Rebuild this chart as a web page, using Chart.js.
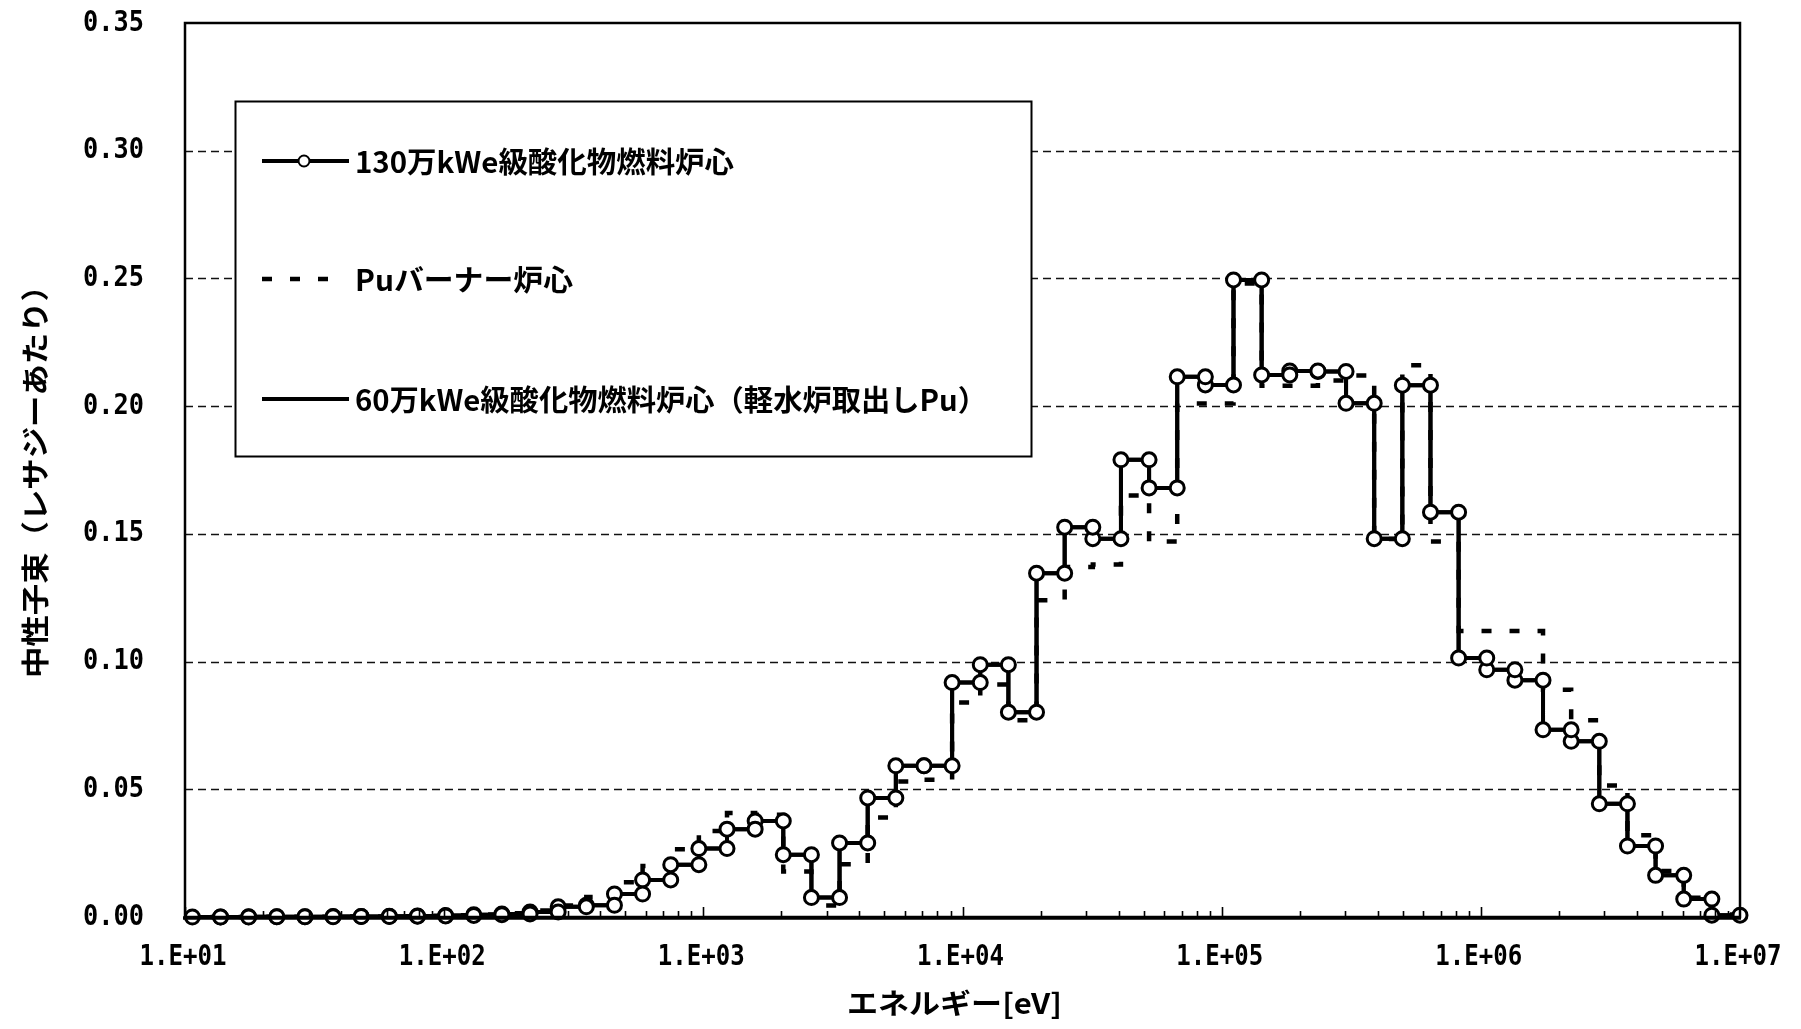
<!DOCTYPE html>
<html>
<head>
<meta charset="utf-8">
<script src="https://cdn.jsdelivr.net/npm/chart.js@4.4.1/dist/chart.umd.min.js"></script>
<style>
  html, body { margin: 0; padding: 0; background: #ffffff; }
  #wrap { width: 1801px; height: 1029px; position: relative; }
  canvas { display: block; }
</style>
</head>
<body>
<div id="wrap"><canvas id="c" width="1801" height="1029"></canvas></div>
<script>
// Group boundaries [eV] of the 70-group structure (lethargy width 0.25), upper 55 groups
const groupBounds = [
  1.0000e7, 7.7880e6, 6.0653e6, 4.7237e6, 3.6788e6, 2.8650e6, 2.2313e6, 1.7377e6,
  1.3534e6, 1.0540e6, 8.2085e5, 6.3928e5, 4.9787e5, 3.8774e5, 3.0197e5, 2.3518e5,
  1.8316e5, 1.4264e5, 1.1109e5, 8.6517e4, 6.7379e4, 5.2475e4, 4.0868e4, 3.1828e4,
  2.4788e4, 1.9305e4, 1.5034e4, 1.1709e4, 9.1188e3, 7.1017e3, 5.5308e3, 4.3074e3,
  3.3546e3, 2.6126e3, 2.0347e3, 1.5846e3, 1.2341e3, 961.12, 748.52, 582.95,
  454.00, 353.57, 275.36, 214.45, 167.02, 130.07, 101.30, 78.893,
  61.442, 47.851, 37.267, 29.023, 22.603, 17.603, 13.710, 10.677
];

// Neutron flux per unit lethargy, group 1 (highest energy) to group 55
const fluxOxide1300 = [
  0.0007, 0.0070, 0.0163, 0.0278, 0.0443, 0.0688, 0.0733, 0.0927, 0.0968, 0.1014,
  0.1585, 0.2082, 0.1481, 0.2011, 0.2136, 0.2138, 0.2122, 0.2494, 0.2083, 0.2115,
  0.1680, 0.1790, 0.1481, 0.1526, 0.1346, 0.0802, 0.0988, 0.0918, 0.0592, 0.0592,
  0.0466, 0.0290, 0.0076, 0.0244, 0.0376, 0.0344, 0.0268, 0.0205, 0.0145, 0.0090,
  0.0046, 0.0040, 0.0020, 0.0012, 0.0009, 0.0006, 0.0004, 0.0003, 0.0002, 0.0002,
  0.0001, 0.0001, 0.0001, 0.0000, 0.0000
];
const fluxPuBurner = [
  0.0010, 0.0075, 0.0180, 0.0320, 0.0515, 0.0770, 0.0890, 0.1120, 0.1120, 0.1120,
  0.1470, 0.2160, 0.1480, 0.2120, 0.2100, 0.2080, 0.2080, 0.2480, 0.2010, 0.2010,
  0.1470, 0.1650, 0.1380, 0.1370, 0.1240, 0.0770, 0.0910, 0.0840, 0.0537, 0.0530,
  0.0390, 0.0207, 0.0045, 0.0178, 0.0400, 0.0407, 0.0337, 0.0265, 0.0200, 0.0136,
  0.0078, 0.0045, 0.0025, 0.0015, 0.0010, 0.0007, 0.0005, 0.0003, 0.0002, 0.0002,
  0.0001, 0.0001, 0.0001, 0.0000, 0.0000
];
const fluxOxide600 = [
  0.0007, 0.0070, 0.0163, 0.0278, 0.0443, 0.0688, 0.0733, 0.0927, 0.0968, 0.1014,
  0.1585, 0.2082, 0.1481, 0.2011, 0.2136, 0.2138, 0.2122, 0.2494, 0.2083, 0.2115,
  0.1680, 0.1790, 0.1481, 0.1526, 0.1346, 0.0802, 0.0988, 0.0918, 0.0592, 0.0592,
  0.0466, 0.0290, 0.0076, 0.0244, 0.0376, 0.0344, 0.0268, 0.0205, 0.0145, 0.0090,
  0.0046, 0.0040, 0.0020, 0.0012, 0.0009, 0.0006, 0.0004, 0.0003, 0.0002, 0.0002,
  0.0001, 0.0001, 0.0001, 0.0000, 0.0000
];

const seriesNames = [
  '130万kWe級酸化物燃料炉心',
  'Puバーナー炉心',
  '60万kWe級酸化物燃料炉心（軽水炉取出しPu）'
];
const xTickValues = [1e1, 1e2, 1e3, 1e4, 1e5, 1e6, 1e7];
const xTickLabels = ['1.E+01', '1.E+02', '1.E+03', '1.E+04', '1.E+05', '1.E+06', '1.E+07'];
const yTickValues = [0, 0.05, 0.10, 0.15, 0.20, 0.25, 0.30, 0.35];
const yTickLabels = ['0.00', '0.05', '0.10', '0.15', '0.20', '0.25', '0.30', '0.35'];
const xTitle = 'エネルギー[eV]';
const yTitle = '中性子束（レサジーあたり）';

// Each group becomes a flat step from its upper to its lower boundary
function stairs(values) {
  const pts = [];
  values.forEach((v, i) => {
    pts.push({ x: groupBounds[i], y: v });
    pts.push({ x: groupBounds[i + 1], y: v });
  });
  return pts;
}

const CJK = '"Noto Sans CJK JP", "Noto Sans CJK SC", sans-serif';
const MONO = '"DejaVu Sans Mono", "Liberation Mono", monospace';

// text squeezed or stretched horizontally to a given width
function fitText(ctx, text, x, y, width, font, align) {
  ctx.save();
  ctx.font = font;
  const w = ctx.measureText(text).width;
  const sx = width / w;
  let left = x;
  if (align === 'center') left = x - width / 2;
  else if (align === 'right') left = x - width;
  ctx.translate(left, y);
  ctx.scale(sx, 1);
  ctx.textAlign = 'left';
  ctx.textBaseline = 'middle';
  ctx.fillStyle = '#000';
  ctx.fillText(text, 0, 0);
  ctx.restore();
}

const frame = {
  id: 'frame',
  beforeDatasetsDraw(chart) {
    const { ctx, chartArea: a, scales: { y } } = chart;
    ctx.save();
    ctx.strokeStyle = '#111';
    ctx.lineWidth = 1.5;
    ctx.setLineDash([8, 5]);
    yTickValues.forEach(t => {
      if (t <= 0 || t >= 0.35) return;
      const py = Math.round(y.getPixelForValue(t)) + 0.5;
      ctx.beginPath();
      ctx.moveTo(a.left, py);
      ctx.lineTo(a.right, py);
      ctx.stroke();
    });
    ctx.restore();
  },
  afterDraw(chart) {
    const { ctx, chartArea: a, scales: { x, y } } = chart;
    ctx.save();
    // plot frame
    ctx.strokeStyle = '#000';
    ctx.setLineDash([]);
    ctx.lineWidth = 2.5;
    ctx.strokeRect(a.left, a.top, a.right - a.left, a.bottom - a.top);
    ctx.lineWidth = 3.5;
    ctx.beginPath(); ctx.moveTo(a.left - 2, a.bottom + 1); ctx.lineTo(a.right + 1, a.bottom + 1); ctx.stroke();

    // logarithmic tick marks pointing into the plot
    ctx.lineWidth = 1.6;
    for (let d = 1; d < 7; d++) {
      for (let m = 1; m <= 9; m++) {
        const v = m * Math.pow(10, d);
        const px = Math.round(x.getPixelForValue(v)) + 0.5;
        const len = m === 1 ? 10 : 6;
        ctx.beginPath(); ctx.moveTo(px, a.bottom); ctx.lineTo(px, a.bottom - len); ctx.stroke();
      }
    }

    // axis tick labels
    xTickValues.forEach((v, i) => {
      fitText(ctx, xTickLabels[i], x.getPixelForValue(v) - 2, a.bottom + 40, 87, 'bold 29px ' + MONO, 'center');
    });
    yTickValues.forEach((v, i) => {
      fitText(ctx, yTickLabels[i], a.left - 41, y.getPixelForValue(v), 61, 'bold 29px ' + MONO, 'right');
    });

    // axis titles
    fitText(ctx, xTitle, (a.left + a.right) / 2 - 8, a.bottom + 86, 215, 'bold 28px ' + CJK, 'center');
    ctx.save();
    ctx.translate(35, 474);
    ctx.rotate(-Math.PI / 2);
    fitText(ctx, yTitle, 0, 0, 408, 'bold 28px ' + CJK, 'center');
    ctx.restore();

    // legend box
    const box = { l: 235.5, t: 101.5, r: 1031.5, b: 456.5 };
    ctx.fillStyle = '#fff';
    ctx.fillRect(box.l, box.t, box.r - box.l, box.b - box.t);
    ctx.lineWidth = 2;
    ctx.strokeStyle = '#000';
    ctx.strokeRect(box.l, box.t, box.r - box.l, box.b - box.t);

    const rows = [161, 279, 399];
    const ds = chart.data.datasets;
    const textWidths = [379, 218, 632];
    ds.forEach((d, i) => {
      const ry = rows[i];
      ctx.save();
      ctx.strokeStyle = '#000';
      ctx.lineWidth = d.borderWidth;
      ctx.setLineDash(d.borderDash || []);
      ctx.lineCap = 'butt';
      ctx.beginPath();
      ctx.moveTo(262, ry);
      ctx.lineTo(i === 1 ? 334 : 349, ry);
      ctx.stroke();
      if (d.pointRadius > 0) {
        ctx.setLineDash([]);
        ctx.lineWidth = 2;
        ctx.fillStyle = '#fff';
        ctx.beginPath();
        ctx.arc(304, ry, 5.5, 0, Math.PI * 2);
        ctx.fill();
        ctx.stroke();
      }
      ctx.restore();
      fitText(ctx, d.label, 355, ry + 1, textWidths[i], 'bold 29px ' + CJK, 'left');
    });
    ctx.restore();
  }
};

new Chart(document.getElementById('c'), {
  type: 'line',
  data: {
    datasets: [
      {
        label: seriesNames[0],
        data: stairs(fluxOxide1300),
        borderColor: '#000',
        borderWidth: 4,
        pointRadius: 7,
        pointBorderWidth: 3,
        pointBackgroundColor: '#fff',
        pointBorderColor: '#000',
        tension: 0,
        clip: false
      },
      {
        label: seriesNames[1],
        data: stairs(fluxPuBurner),
        borderColor: '#000',
        borderWidth: 4.5,
        borderDash: [10, 18],
        pointRadius: 0,
        tension: 0,
        clip: false
      },
      {
        label: seriesNames[2],
        data: stairs(fluxOxide600),
        borderColor: '#000',
        borderWidth: 4,
        pointRadius: 0,
        tension: 0,
        clip: false
      }
    ]
  },
  options: {
    responsive: false,
    animation: false,
    devicePixelRatio: 1,
    layout: { padding: { left: 177, right: 61, top: 23, bottom: 104 } },
    plugins: { legend: { display: false }, tooltip: { enabled: false } },
    scales: {
      x: {
        type: 'logarithmic',
        min: 10,
        max: 1e7,
        ticks: { display: false },
        grid: { display: false },
        border: { display: false }
      },
      y: {
        type: 'linear',
        min: 0,
        max: 0.35,
        ticks: { display: false, stepSize: 0.05 },
        grid: { display: false },
        border: { display: false }
      }
    }
  },
  plugins: [frame]
});
</script>
</body>
</html>
